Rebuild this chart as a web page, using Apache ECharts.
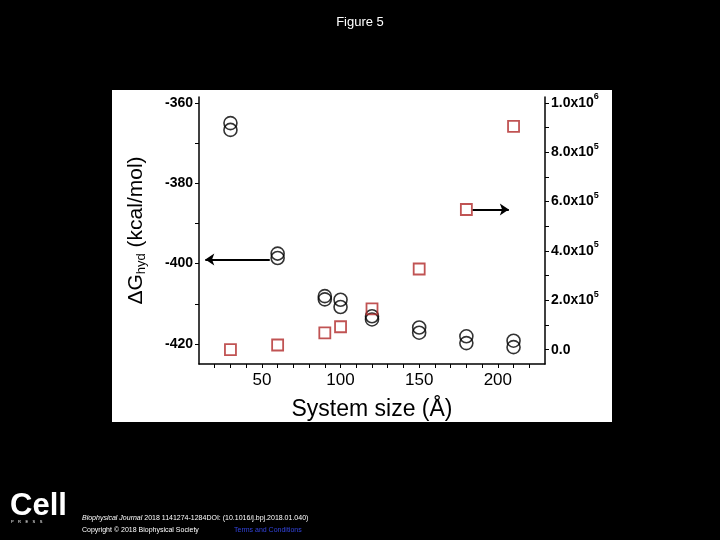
<!DOCTYPE html>
<html><head><meta charset="utf-8">
<script src="https://cdn.jsdelivr.net/npm/echarts@6/dist/echarts.min.js"></script>
<style>html,body{margin:0;background:#000;}#c{width:720px;height:540px;}</style>
</head><body><div id="c"></div>
<script>
const circleX = [30,30,60,60,90,90,100,100,120,120,150,150,180,180,210,210];
const circleG = [-365,-366.7,-397.5,-398.6,-408.1,-408.9,-409,-410.8,-413.1,-413.9,-415.9,-417.2,-418.1,-419.8,-419.2,-420.8];
const squareX = [30,60,90,100,120,150,180,210];
const squareV = [0,19000,68000,93000,165000,327000,568000,905000];
const xTicks = [50,100,150,200];
const xMinor = [20,30,40,50,60,70,80,90,100,110,120,130,140,150,160,170,180,190,200,210,220];
const leftTicks = [-360,-380,-400,-420];
const leftMinor = [-360,-370,-380,-390,-400,-410,-420];
const rightTicks = [0,200000,400000,600000,800000,1000000];
const rightMinor = [0,100000,200000,300000,400000,500000,600000,700000,800000,900000,1000000];

const chart = echarts.init(document.getElementById('c'));
const F = 'Liberation Sans, Arial, sans-serif';
chart.setOption({
  backgroundColor:'#000',
  animation:false,
  title:{text:'Figure 5',left:'center',top:11,textStyle:{color:'#fff',fontSize:13,fontWeight:'normal',fontFamily:F}},
  graphic:[
    {type:'rect',z:-10,shape:{x:112,y:90,width:500,height:332},style:{fill:'#fff'}},
    {type:'text',left:10,top:491,style:{text:'Cell',fill:'#fff',font:'bold 31px '+F}},
    {type:'text',left:11,top:520,style:{text:'P    R    E    S    S',fill:'#fff',font:'4px '+F}},
    {type:'text',left:82,top:515,style:{text:'{i|Biophysical Journal} 2018 1141274-1284DOI: (10.1016/j.bpj.2018.01.040)',fill:'#fff',font:'7px '+F,rich:{i:{fontStyle:'italic',fontSize:7,fill:'#fff',fontFamily:F}}}},
    {type:'text',left:82,top:527,style:{text:'Copyright © 2018 Biophysical Society',fill:'#fff',font:'7px '+F}},
    {type:'text',left:234,top:527,style:{text:'Terms and Conditions',fill:'#3344dd',font:'7px '+F}}
  ],
  grid:{left:199,right:175,top:97,bottom:176},
  xAxis:{type:'value',min:10,max:230,
    axisLine:{onZero:false,lineStyle:{color:'#000',width:1.5}},
    axisTick:{show:true,length:4,lineStyle:{color:'#000'},customValues:xMinor},
    splitLine:{show:false},
    axisLabel:{color:'#000',fontSize:17,fontFamily:F,margin:8,customValues:xTicks},
    name:'System size (Å)',nameLocation:'middle',nameGap:34,
    nameTextStyle:{color:'#000',fontSize:23,fontFamily:F}},
  yAxis:[
    {type:'value',min:-425,max:-358.5,position:'left',
      axisLine:{show:true,onZero:false,lineStyle:{color:'#000',width:1.5}},
      axisTick:{show:true,length:4,lineStyle:{color:'#000'},customValues:leftMinor},
      splitLine:{show:false},
      axisLabel:{color:'#000',fontSize:14,fontWeight:'bold',fontFamily:F,customValues:leftTicks,margin:6},
      name:'{a|ΔG}{s|hyd}{a| (kcal/mol)}',nameLocation:'middle',nameGap:52,nameRotate:90,
      nameTextStyle:{rich:{a:{fontSize:21,color:'#000',fontFamily:F},s:{fontSize:13,color:'#000',fontFamily:F,padding:[0,0,-10,0]}}}},
    {type:'value',min:-58000,max:1024000,position:'right',
      axisLine:{show:true,onZero:false,lineStyle:{color:'#000',width:1.5}},
      axisTick:{show:true,length:4,lineStyle:{color:'#000'},customValues:rightMinor},
      splitLine:{show:false},
      axisLabel:{color:'#000',fontFamily:F,margin:6,customValues:rightTicks,
        formatter:v=>{if(v===0)return '{b|0.0}';const e=Math.floor(Math.log10(v));return '{b|'+(v/Math.pow(10,e)).toFixed(1)+'x10}{e|'+e+'}';},
        rich:{b:{fontSize:14,fontWeight:'bold',color:'#000',fontFamily:F},e:{fontSize:9,fontWeight:'bold',color:'#000',fontFamily:F,padding:[0,0,12,0]}}}}
  ],
  series:[
    {type:'scatter',yAxisIndex:0,symbol:'circle',symbolSize:13,
      data:circleX.map((x,i)=>[x,circleG[i]]),
      itemStyle:{color:'transparent',borderColor:'#000',borderWidth:1.6},
      markLine:{silent:true,symbol:['none','arrow'],symbolSize:9,label:{show:false},
        lineStyle:{color:'#000',width:2,type:'solid'},
        data:[[{coord:[55,-399]},{coord:[14,-399]}]]}},
    {type:'scatter',yAxisIndex:1,symbol:'rect',symbolSize:11,
      data:squareX.map((x,i)=>[x,squareV[i]]),
      itemStyle:{color:'transparent',borderColor:'#b02828',borderWidth:1.8},
      markLine:{silent:true,symbol:['none','arrow'],symbolSize:9,label:{show:false},
        lineStyle:{color:'#000',width:2,type:'solid'},
        data:[[{coord:[184,568000]},{coord:[207,568000]}]]}}
  ]
});
</script></body></html>
